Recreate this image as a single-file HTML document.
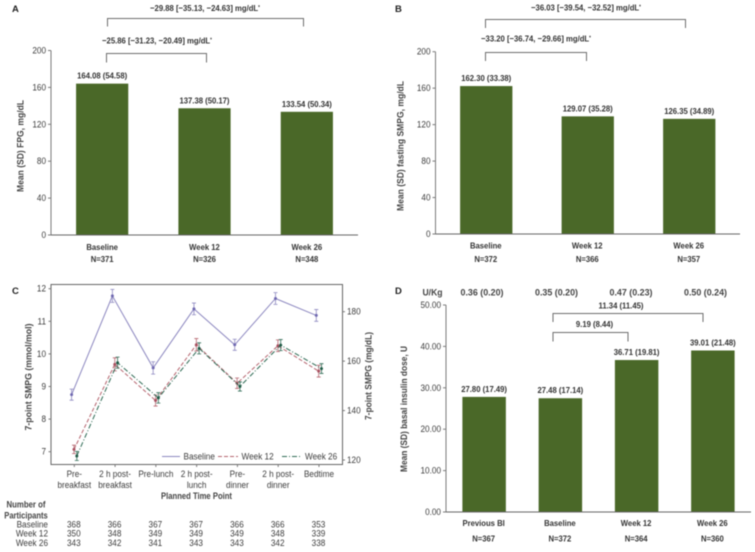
<!DOCTYPE html>
<html lang="en">
<head>
<meta charset="utf-8">
<title>Glycemic outcomes panels</title>
<style>
html,body{margin:0;padding:0;background:#fff;}
svg{display:block;filter:blur(0.4px);font-family:"Liberation Sans",sans-serif;}
text{fill:#3c3c3c;font-size:8.2px;}
.b{font-weight:bold;font-size:7.7px;fill:#333;}
.t{font-size:9.3px;font-weight:bold;fill:#444;}
.p{font-size:9.5px;font-weight:bold;fill:#222;}
.ax{stroke:#7a7a7a;stroke-width:1;fill:none;}
.br{stroke:#6e6e6e;stroke-width:1;fill:none;}
</style>
</head>
<body>
<svg id="fig" xmlns="http://www.w3.org/2000/svg" width="755" height="552" viewBox="0 0 755 552">
<rect x="0" y="0" width="755" height="552" fill="#fff"/>

<text class="p" x="12" y="12">A</text>
<text class="p" x="395" y="12">B</text>
<text class="p" x="12" y="294">C</text>
<text class="p" x="395" y="294">D</text>

<path class="br" d="M107.5 26.5V18.5H303.5V26.5"/>
<path class="br" d="M106.5 62.5V53.5H206.5V62.5"/>
<text class="b" x="205" y="11" text-anchor="middle">−29.88 [−35.13, −24.63] mg/dL<tspan font-size="5" dy="-2">*</tspan></text>
<text class="b" x="157" y="43.5" text-anchor="middle">−25.86 [−31.23, −20.49] mg/dL<tspan font-size="5" dy="-2">*</tspan></text>
<text class="t" textLength="92" lengthAdjust="spacingAndGlyphs" transform="translate(23.5,146) rotate(-90)" text-anchor="middle">Mean (SD) FPG, mg/dL</text>

<path class="br" d="M485.5 28V19.5H685.5V28"/>
<path class="br" d="M485.5 61V52.5H586.5V61"/>
<text class="b" x="586" y="10.5" text-anchor="middle">−36.03 [−39.54, −32.52] mg/dL<tspan font-size="5" dy="-2">*</tspan></text>
<text class="b" x="536" y="41.5" text-anchor="middle">−33.20 [−36.74, −29.66] mg/dL<tspan font-size="5" dy="-2">*</tspan></text>
<text class="t" textLength="130" lengthAdjust="spacingAndGlyphs" transform="translate(403.5,146) rotate(-90)" text-anchor="middle">Mean (SD) fasting SMPG, mg/dL</text>

<path class="br" d="M553 322V313.5H703V322"/>
<path class="br" d="M553 341.5V332.5H628V341.5"/>
<text class="b" x="621" y="308.5" text-anchor="middle">11.34 (11.45)</text>
<text class="b" x="594.5" y="327" text-anchor="middle">9.19 (8.44)</text>
<text class="t" textLength="126" lengthAdjust="spacingAndGlyphs" transform="translate(407,409) rotate(-90)" text-anchor="middle">Mean (SD) basal insulin dose, U</text>
<text class="t" textLength="20" lengthAdjust="spacingAndGlyphs" x="432.5" y="295.5" text-anchor="middle">U/Kg</text>

<rect class="ax" x="51" y="284.5" width="291.5" height="180" style="stroke:#666"/>
<text class="t" textLength="107" lengthAdjust="spacingAndGlyphs" transform="translate(31.5,377) rotate(-90)" text-anchor="middle">7-point SMPG (mmol/mol)</text>
<text class="t" textLength="88" lengthAdjust="spacingAndGlyphs" transform="translate(371.5,376) rotate(-90)" text-anchor="middle">7-point SMPG (mg/dL)</text>
<text class="t" textLength="71" lengthAdjust="spacingAndGlyphs" x="196.5" y="499" text-anchor="middle">Planned Time Point</text>
<text class="t" textLength="39" lengthAdjust="spacingAndGlyphs" x="26" y="507.5" text-anchor="middle">Number of</text>
<text class="t" textLength="43.5" lengthAdjust="spacingAndGlyphs" x="26" y="518.3" text-anchor="middle">Participants</text>

<line x1="162" y1="456.5" x2="180" y2="456.5" stroke="#8d88c0" stroke-width="1"/>
<text x="183.5" y="459.5">Baseline</text>
<line x1="218" y1="456.5" x2="238" y2="456.5" stroke="#b5656f" stroke-width="1" stroke-dasharray="4 2"/>
<text x="241.5" y="459.5">Week 12</text>
<line x1="282" y1="456.5" x2="302" y2="456.5" stroke="#2f6b55" stroke-width="1" stroke-dasharray="5 2 1 2"/>
<text x="305" y="459.5">Week 26</text>

<g id="marks"></g>
</svg>

<script>
// Panel A data
const aCategories = ['Baseline', 'Week 12', 'Week 26'];
const aCounts = ['N=371', 'N=326', 'N=348'];
const aMeans = [164.08, 137.38, 133.54];
const aSds = ['54.58', '50.17', '50.34'];
const aTicks = [0, 40, 80, 120, 160, 200];

// Panel B data
const bCategories = ['Baseline', 'Week 12', 'Week 26'];
const bCounts = ['N=372', 'N=366', 'N=357'];
const bMeans = [162.30, 129.07, 126.35];
const bSds = ['33.38', '35.28', '34.89'];
const bTicks = [0, 40, 80, 120, 160, 200];

// Panel D data
const dCategories = ['Previous BI', 'Baseline', 'Week 12', 'Week 26'];
const dCounts = ['N=367', 'N=372', 'N=364', 'N=360'];
const dMeans = [27.80, 27.48, 36.71, 39.01];
const dSds = ['17.49', '17.14', '19.81', '21.48'];
const dUnitDoses = ['0.36 (0.20)', '0.35 (0.20)', '0.47 (0.23)', '0.50 (0.24)'];
const dTicks = ['0.00', '10.00', '20.00', '30.00', '40.00', '50.00'];

// Panel C data
const cCategories = [['Pre-', 'breakfast'], ['2 h post-', 'breakfast'], ['Pre-lunch'], ['2 h post-', 'lunch'], ['Pre-', 'dinner'], ['2 h post-', 'dinner'], ['Bedtime']];
const cBaseline = [8.75, 11.78, 9.57, 11.38, 10.28, 11.70, 11.18];
const cBaselineErr = [0.17, 0.20, 0.19, 0.18, 0.17, 0.18, 0.18];
const cWeek12 = [7.07, 9.68, 8.57, 10.28, 9.10, 10.25, 9.47];
const cWeek12Err = [0.13, 0.20, 0.17, 0.19, 0.16, 0.18, 0.18];
const cWeek26 = [6.87, 9.73, 8.65, 10.17, 9.00, 10.27, 9.55];
const cWeek26Err = [0.14, 0.17, 0.16, 0.17, 0.14, 0.17, 0.15];
const cLeftTicks = [7, 8, 9, 10, 11, 12];
const cRightTicks = [120, 140, 160, 180];
const tableLabels = ['Baseline', 'Week 12', 'Week 26'];
const tableBaseline = [368, 366, 367, 367, 366, 366, 353];
const tableWeek12 = [350, 348, 349, 349, 349, 348, 339];
const tableWeek26 = [343, 342, 341, 343, 343, 342, 338];

const NS = 'http://www.w3.org/2000/svg';
const root = document.getElementById('marks');
function mk(tag, attrs, txt) {
  const el = document.createElementNS(NS, tag);
  for (const k in attrs) el.setAttribute(k, attrs[k]);
  if (txt !== undefined) el.textContent = txt;
  root.appendChild(el);
  return el;
}
function scale(d0, d1, r0, r1) {
  return v => r0 + (v - d0) * (r1 - r0) / (d1 - d0);
}

function barPanel(p, cats, counts, means, sds, ticks, yMax, box) {
  const y = scale(0, yMax, box.y0, box.y1);
  const band = (box.x1 - box.x0) / cats.length;
  const x = i => box.x0 + band * (i + 0.5);
  const bw = band * box.barRatio;
  means.forEach((m, i) => {
    const bar = mk('rect', {x: x(i) - bw / 2, y: y(m), width: bw, height: box.y0 - y(m), fill: '#4a6828'});
    
    
    const val = mk('text', {class: 'b', x: x(i), y: y(m) - 5, 'text-anchor': 'middle'}, m.toFixed(2) + ' (' + sds[i] + ')');
    
    
    const cat = mk('text', {class: 'b', x: x(i) + box.labelDx, y: box.catY, 'text-anchor': 'middle'}, cats[i]);
    
    
    const n = mk('text', {class: 'b', x: x(i) + box.labelDx, y: box.nY, 'text-anchor': 'middle'}, counts[i]);
    
    
  });
  ticks.forEach(t => {
    const v = Number(t);
    const tick = mk('line', {class: 'ax', x1: box.x0 - 3, x2: box.x0, y1: y(v), y2: y(v)});
    
    
    const lab = mk('text', {x: box.x0 - 5, y: y(v) + 3, 'text-anchor': 'end'}, t);
    
    
  });
  const ya = mk('line', {class: 'ax', x1: box.x0, x2: box.x0, y1: box.y1, y2: box.y0});
  
  
  const xa = mk('line', {class: 'ax', x1: box.x0, x2: box.x1, y1: box.y0, y2: box.y0, style: 'stroke:#666'});
  
  
}

barPanel('a', aCategories, aCounts, aMeans, aSds, aTicks, 200,
  {x0: 51, x1: 358, y0: 235, y1: 50.5, barRatio: 0.51, catY: 250, nY: 262, labelDx: 0});
barPanel('b', bCategories, bCounts, bMeans, bSds, bTicks, 200,
  {x0: 435.5, x1: 740, y0: 234, y1: 51.7, barRatio: 0.515, catY: 248.5, nY: 262, labelDx: -0.5});
barPanel('d', dCategories, dCounts, dMeans, dSds, dTicks, 50,
  {x0: 446, x1: 751, y0: 512, y1: 305, barRatio: 0.57, catY: 526, nY: 541.5, labelDx: -0.5});

dUnitDoses.forEach((s, i) => {
  const el = mk('text', {class: 't', x: 482 + i * 74.5, y: 295.5, 'text-anchor': 'middle', textLength: 43, lengthAdjust: 'spacingAndGlyphs'}, s);
  
  
});

// Panel C
const cy = scale(7, 12, 451.7, 288.7);
const cyR = scale(120, 180, 460, 311.7);
const cx = i => 74.3 + i * 40.78;

cCategories.forEach((lines, i) => {
  const tick = mk('line', {class: 'ax', x1: cx(i), x2: cx(i), y1: 464.5, y2: 467});
  
  
  lines.forEach((ln, j) => {
    const lab = mk('text', {x: cx(i), y: 477 + j * 10.8, 'text-anchor': 'middle'}, ln);
    
    
  });
});
cLeftTicks.forEach(t => {
  const tick = mk('line', {class: 'ax', x1: 48.5, x2: 51, y1: cy(t), y2: cy(t)});
  
  
  const lab = mk('text', {x: 46, y: cy(t) + 3, 'text-anchor': 'end'}, t);
  
  
});
cRightTicks.forEach(t => {
  const tick = mk('line', {class: 'ax', x1: 342.5, x2: 345, y1: cyR(t), y2: cyR(t)});
  
  
  const lab = mk('text', {x: 347, y: cyR(t) + 3}, t);
  
  
});

function series(vals, errs, dx, color, dash, fill) {
  const pts = vals.map((v, i) => (cx(i) + dx) + ',' + cy(v)).join(' ');
  const line = mk('polyline', {points: pts, fill: 'none', stroke: color, 'stroke-width': 1, 'stroke-dasharray': dash});
  
  
  vals.forEach((v, i) => {
    const x = cx(i) + dx, hi = cy(v + errs[i]), lo = cy(v - errs[i]);
    const eb = mk('path', {d: 'M' + (x - 2) + ' ' + hi + 'H' + (x + 2) + 'M' + x + ' ' + hi + 'V' + lo + 'M' + (x - 2) + ' ' + lo + 'H' + (x + 2), fill: 'none', stroke: color, 'stroke-width': 0.8});
    
    
    const dot = mk('circle', {cx: x, cy: cy(v), r: 1.5, fill: fill});
    
    
  });
}
series(cBaseline, cBaselineErr, -2.7, '#8d88c0', 'none', '#6f68b0');
series(cWeek12, cWeek12Err, -0.3, '#b5656f', '4 2', '#a85060');
series(cWeek26, cWeek26Err, 2.5, '#2f6b55', '5 2 1 2', '#1f5a45');

[tableBaseline, tableWeek12, tableWeek26].forEach((row, r) => {
  const y = 527.3 + r * 9.3;
  const lab = mk('text', {x: 48, y: y, 'text-anchor': 'end'}, tableLabels[r]);
  
  
  row.forEach((n, i) => {
    const c = mk('text', {x: cx(i) - 0.5, y: y, 'text-anchor': 'middle'}, n);
    
    
  });
});

// Calibri-like proportions: taller glyphs, same run width as the original text
document.querySelectorAll('#fig text').forEach(t => {
  if (t.hasAttribute('textLength') || t.classList.contains('p')) return;
  const w = t.getComputedTextLength();
  const fs = parseFloat(getComputedStyle(t).fontSize);
  t.style.fontSize = (fs * 1.1) + 'px';
  t.setAttribute('textLength', w);
  t.setAttribute('lengthAdjust', 'spacingAndGlyphs');
});
</script>
</body>
</html>
